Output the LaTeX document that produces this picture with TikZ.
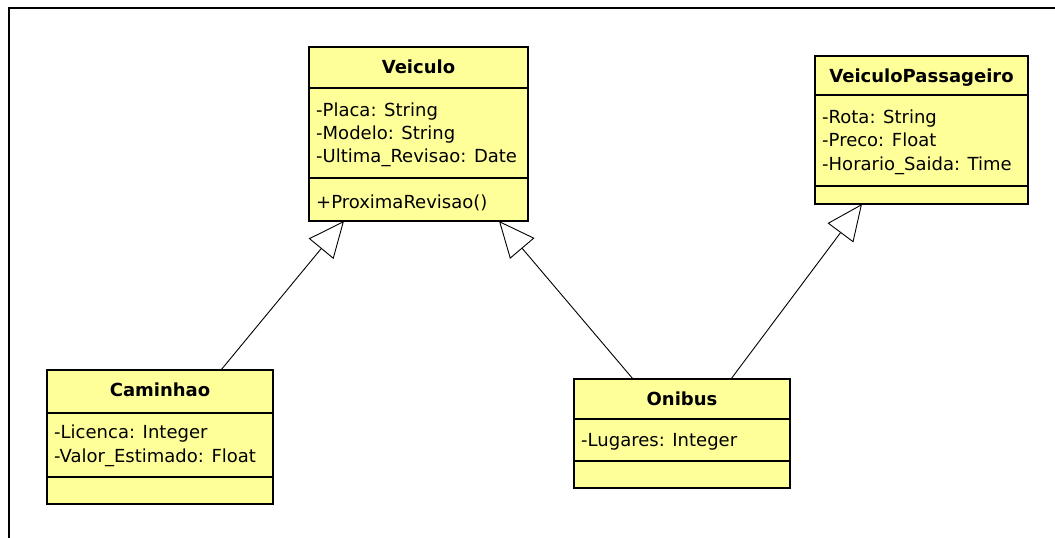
\documentclass[tikz,border=0pt]{standalone}
\usepackage{fontspec}
\setmainfont{DejaVu Sans}
\usetikzlibrary{arrows.meta,calc}
\definecolor{classfill}{RGB}{255,255,153}
\begin{document}
\begin{tikzpicture}[x=1pt,y=-1pt,
  classbox/.style={draw=black, line width=1.4pt, fill=classfill, anchor=north west,
    inner sep=0pt, outer sep=0pt},
  classname/.style={anchor=base, font=\fontsize{18}{23}\selectfont\bfseries, inner sep=0pt},
  member/.style={anchor=base west, font=\fontsize{18}{23}\selectfont, inner sep=0pt},
  divider/.style={line width=1.4pt},
  inherit/.style={line width=0.9pt, -{Triangle[open, length=36pt, width=32pt, fill=white]}},
  frame/.style={line width=2.2pt}]

\useasboundingbox (0,0) rectangle (1055,538);
\draw[frame] (9,538) -- (9,8) -- (1055,8);

% Veiculo
\node[classbox, minimum width=219pt, minimum height=174pt] (veiculo) at (309,47) {};
\draw[divider] (309,88) -- (528,88);
\draw[divider] (309,178) -- (528,178);
\node[classname] (veiculo-name) at (418.5,73) {Veiculo};
\node[member] (veiculo-a1) at (316,116) {-Placa: String};
\node[member] (veiculo-a2) at (316,139) {-Modelo: String};
\node[member] (veiculo-a3) at (316,162) {-Ultima\_Revisao: Date};
\node[member] (veiculo-m1) at (316,208) {+ProximaRevisao()};

% VeiculoPassageiro
\node[classbox, minimum width=213pt, minimum height=148pt] (passageiro) at (815,56) {};
\draw[divider] (815,95) -- (1028,95);
\draw[divider] (815,186) -- (1028,186);
\node[classname] (passageiro-name) at (921.5,82) {VeiculoPassageiro};
\node[member] (passageiro-a1) at (822,123) {-Rota: String};
\node[member] (passageiro-a2) at (822,146) {-Preco: Float};
\node[member] (passageiro-a3) at (822,170) {-Horario\_Saida: Time};

% Caminhao
\node[classbox, minimum width=226pt, minimum height=134pt] (caminhao) at (47,370) {};
\draw[divider] (47,413) -- (273,413);
\draw[divider] (47,477) -- (273,477);
\node[classname] (caminhao-name) at (160,396) {Caminhao};
\node[member] (caminhao-a1) at (54,438) {-Licenca: Integer};
\node[member] (caminhao-a2) at (54,462) {-Valor\_Estimado: Float};

% Onibus
\node[classbox, minimum width=216pt, minimum height=109pt] (onibus) at (574,379) {};
\draw[divider] (574,419) -- (790,419);
\draw[divider] (574,461) -- (790,461);
\node[classname] (onibus-name) at (682,405) {Onibus};
\node[member] (onibus-a1) at (581,446) {-Lugares: Integer};

% Generalisations
\draw[inherit] ($(caminhao.north west)+(174,0)$) -- ($(veiculo.south west)+(35,0)$);
\draw[inherit] ($(onibus.north west)+(59,0)$) -- ($(veiculo.south west)+(190,0)$);
\draw[inherit] ($(onibus.north west)+(157,0)$) -- ($(passageiro.south west)+(47,0)$);
\end{tikzpicture}
\end{document}
